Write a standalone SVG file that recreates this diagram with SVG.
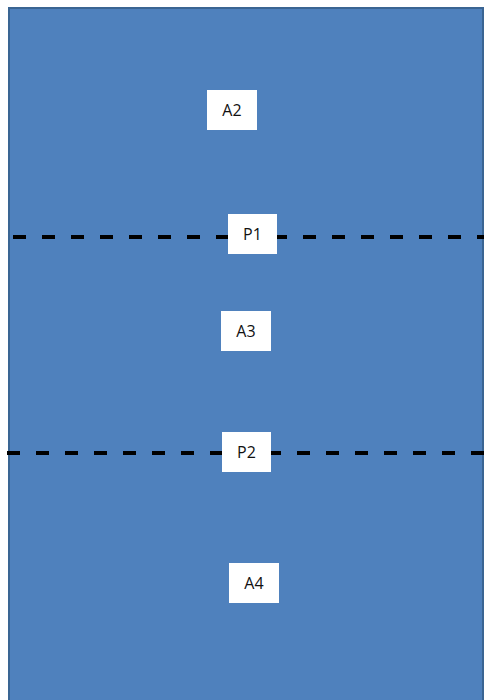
<svg xmlns="http://www.w3.org/2000/svg" width="484" height="700" viewBox="0 0 484 700">
<style>
.lbl{fill:#ffffff;stroke:none}
.txt{font-family:"Open Sans","Liberation Sans",sans-serif;font-size:16px;fill:#111111;text-anchor:middle;dominant-baseline:central}
.dash{stroke:#000000;stroke-width:4;stroke-dasharray:13 16;fill:none}
</style>
<rect x="0" y="0" width="484" height="700" fill="#ffffff"/>
<g id="area">
<rect x="9" y="8" width="474" height="700" fill="#4f81bd" stroke="#3a6593" stroke-width="2"/>
</g>
<g id="connectors">
<line class="dash" x1="13" y1="237" x2="484" y2="237"/>
<line class="dash" x1="7" y1="453" x2="484" y2="453"/>
</g>
<g id="A2"><rect class="lbl" x="207" y="90" width="50" height="40"/><text class="txt" x="232" y="110">A2</text></g>
<g id="P1"><rect class="lbl" x="228" y="214" width="49" height="40"/><text class="txt" x="252.5" y="234">P1</text></g>
<g id="A3"><rect class="lbl" x="221" y="311" width="50" height="40"/><text class="txt" x="246" y="331">A3</text></g>
<g id="P2"><rect class="lbl" x="222" y="432" width="49" height="40"/><text class="txt" x="246.5" y="452">P2</text></g>
<g id="A4"><rect class="lbl" x="229" y="563" width="50" height="40"/><text class="txt" x="254" y="583">A4</text></g>
</svg>
